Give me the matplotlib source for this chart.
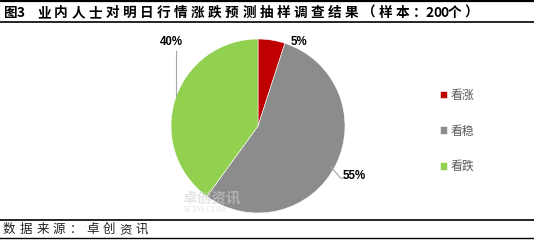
import matplotlib
matplotlib.use("Agg")
import matplotlib.pyplot as plt
from matplotlib.lines import Line2D

plt.rcParams['font.family'] = ['Noto Sans CJK SC', 'DejaVu Sans']

# data
labels = ["看涨", "看稳", "看跌"]
values = [5, 55, 40]
colors = ["#C00000", "#8C8C8C", "#92D050"]
pct_text = ["5%", "55%", "40%"]

title_head = "图3"
title_body = "业内人士对明日行情涨跌预测抽样调查结果（样本：200个）"
source = "数据来源：卓创资讯"

W, H = 534, 243
fig = plt.figure(figsize=(W / 100, H / 100), dpi=100)


def fx(px):
    return px / W


def fy(py):
    return 1 - py / H


def spaced(x, y, s, full, half, special=None, **kw):
    # draw the string char by char to mimic the wide letter spacing
    special = special or {}
    for ch in s:
        fig.text(fx(x), fy(y), ch, ha='left', va='center', **kw)
        if ch in special:
            x += special[ch]
        else:
            x += full if ord(ch) > 255 else half


# header / footer rules
for y, lw in [(1.5, 1.6), (22.5, 1.2), (220, 1.2), (237.5, 1.0)]:
    fig.add_artist(Line2D([0, 1], [fy(y), fy(y)], color='black', lw=lw))

spaced(4, 13, title_head, 12.5, 7, fontsize=9.8, fontweight='bold', color='black')
spaced(37, 13, title_body, 17.1, 7.2, special={"：": 12.5},
       fontsize=9.8, fontweight='bold', color='black')
spaced(3, 229.5, source, 16.6, 7, fontsize=9, color='#222222')

# pie
cx, cy, r = 258, 126, 87
ax = fig.add_axes([fx(cx - r), 1 - (cy + r) / H, 2 * r / W, 2 * r / H])
wedges, _ = ax.pie(values, colors=colors, startangle=90, counterclock=False,
                   radius=1, wedgeprops=dict(edgecolor='white', linewidth=0.4))
ax.set_xlim(-1, 1)
ax.set_ylim(-1, 1)
ax.set_aspect('auto')
ax.axis('off')

# data labels (Excel style best fit)
label_xy = [(0.47, 0.97), (1.10, -0.58), (-1.0, 0.97)]
for (lx, ly), t in zip(label_xy, pct_text):
    ax.text(lx, ly, t, ha='center', va='center', fontsize=8.3,
            fontweight='bold', family='Liberation Sans', clip_on=False)

# leader lines
ax.plot([-0.94, -0.94], [0.86, 0.34], color='#A6A6A6', lw=0.8, clip_on=False)
ax.plot([0.84, 0.95, 1.02], [-0.47, -0.60, -0.60], color='#A6A6A6', lw=0.8,
        clip_on=False)

# watermark
fig.text(fx(182), fy(197), "卓创资讯", fontsize=10.5, fontweight='bold',
         color='#D0D0D0', alpha=0.55, ha='left', va='center')
fig.text(fx(183), fy(210), "SCI99.COM", fontsize=6, family='Liberation Serif',
         color='#D0D0D0', alpha=0.6, ha='left', va='center')

# legend
leg = fig.legend(wedges, labels, loc='center left',
                 bbox_to_anchor=(fx(440), fy(131)), frameon=False,
                 handlelength=0.6, handleheight=0.6, handletextpad=0.3,
                 labelspacing=1.9, borderpad=0, borderaxespad=0,
                 fontsize=8.6)
for t in leg.get_texts():
    t.set_color('#595959')

fig.savefig("out.png", dpi=100)
